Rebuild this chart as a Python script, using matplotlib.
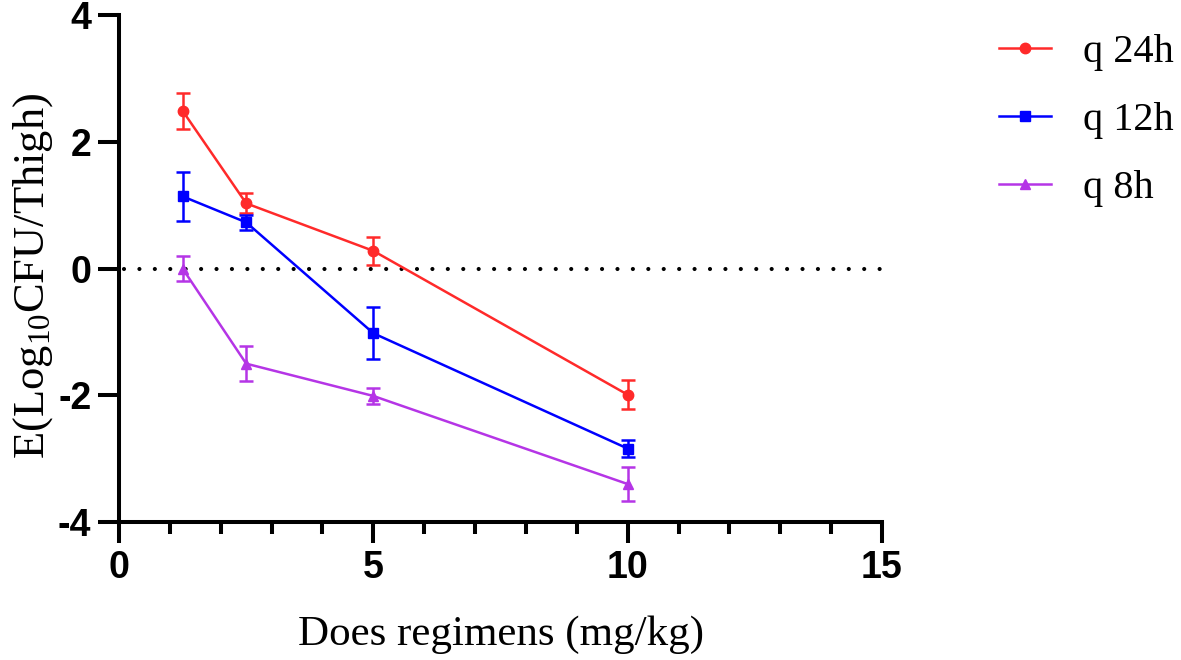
import matplotlib
matplotlib.use("Agg")
import matplotlib.pyplot as plt
from matplotlib.ticker import MultipleLocator
from matplotlib.lines import Line2D

plt.rcParams["mathtext.fontset"] = "custom"
plt.rcParams["mathtext.rm"] = "Liberation Serif"
plt.rcParams["mathtext.it"] = "Liberation Serif:italic"
plt.rcParams["axes.unicode_minus"] = False

doses = [1.25, 2.5, 5, 10]
labels = ["q 24h", "q 12h", "q 8h"]
q24_mean = [2.49, 1.03, 0.28, -1.99]
q24_err = [0.28, 0.16, 0.22, 0.23]
q12_mean = [1.14, 0.73, -1.02, -2.84]
q12_err = [0.39, 0.12, 0.41, 0.13]
q8_mean = [0.00, -1.50, -2.01, -3.40]
q8_err = [0.20, 0.28, 0.13, 0.27]

colors = ["#FF2A2A", "#0000FF", "#B535E6"]
markers = ["o", "s", "^"]

fig = plt.figure(figsize=(11.81, 6.60), dpi=100)
ax = fig.add_axes([0.1008, 0.209, 0.646, 0.768])

handles = []
for m, e, c, mk, lab in zip([q24_mean, q12_mean, q8_mean], [q24_err, q12_err, q8_err], colors, markers, labels):
    ax.errorbar(doses, m, yerr=e, color=c, marker=mk, markersize=7.5, lw=1.8,
                elinewidth=1.8, capsize=5, capthick=1.8, clip_on=False, zorder=3)
    handles.append(Line2D([], [], color=c, marker=mk, markersize=7.5, lw=1.8))

ax.plot([0.1, 15], [0, 0], color="black", lw=3.0, ls=(0, (0.001, 3.7)), dash_capstyle="round", zorder=2)

ax.set_xlim(0, 15)
ax.set_ylim(-4, 4)
ax.xaxis.set_major_locator(MultipleLocator(5))
ax.xaxis.set_minor_locator(MultipleLocator(1))
ax.yaxis.set_major_locator(MultipleLocator(2))
for s in ["top", "right"]:
    ax.spines[s].set_visible(False)
for s in ["left", "bottom"]:
    ax.spines[s].set_linewidth(2.9)
ax.tick_params(axis="both", which="major", width=2.9, length=15, direction="out", pad=5)
ax.tick_params(axis="x", which="minor", width=2.9, length=8.5, direction="out")
for lbl in ax.get_xticklabels() + ax.get_yticklabels():
    lbl.set_fontfamily("Liberation Sans")
    lbl.set_fontweight("bold")
    lbl.set_fontsize(27)

ax.set_xlabel("Does regimens (mg/kg)", family="Liberation Serif", fontsize=31)
ax.xaxis.set_label_coords(0.5, -0.185)
ax.set_ylabel(r"E(Log$_{10}$CFU/Thigh)", family="Liberation Serif", fontsize=32)
ax.yaxis.set_label_coords(-0.084, 0.485)

leg = fig.legend(handles=handles, labels=labels, loc="upper left", bbox_to_anchor=(0.815, 1.004),
                 frameon=False, prop={"family": "Liberation Serif", "size": 29},
                 handlelength=1.3, handletextpad=0.8, labelspacing=0.77)

fig.savefig("out.png", dpi=100)
